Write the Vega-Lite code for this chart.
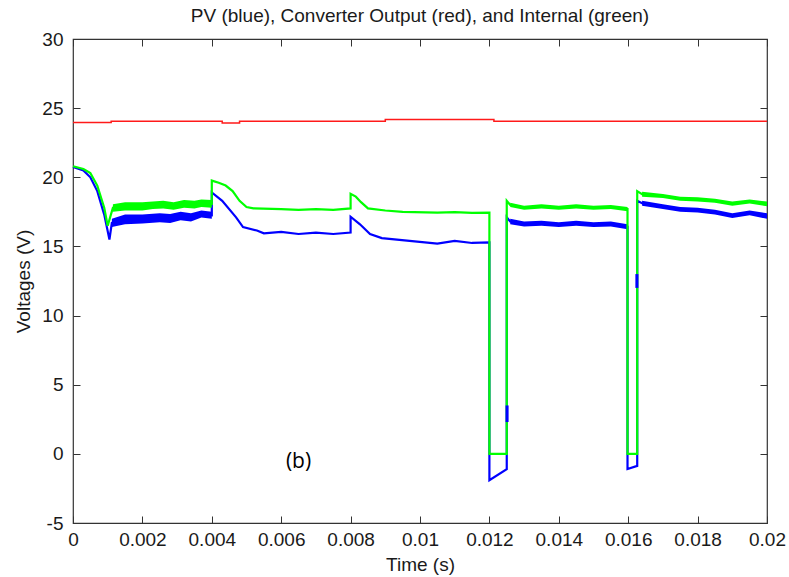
{
  "$schema": "https://vega.github.io/schema/vega-lite/v6.json",
  "width": 694,
  "height": 484,
  "autosize": {"type": "none"},
  "padding": {"left": 73, "top": 39, "right": 22, "bottom": 54},
  "background": "white",
  "config": {
    "view": {"stroke": "#333333", "strokeWidth": 1.2},
    "font": "Liberation Sans",
    "axis": {
      "domain": false,
      "grid": false,
      "tickColor": "#333333",
      "tickSize": -7,
      "labelFlush": false,
      "labelOverlap": false,
      "labelFont": "Liberation Sans",
      "labelFontSize": 19,
      "labelColor": "#1a1a1a",
      "titleFont": "Liberation Sans",
      "titleFontSize": 19,
      "titleFontWeight": "normal",
      "titleColor": "#1a1a1a"
    }
  },
  "title": {
    "text": "PV (blue), Converter Output (red), and Internal (green)",
    "font": "Liberation Sans",
    "fontSize": 19,
    "fontWeight": "normal",
    "color": "#1a1a1a",
    "anchor": "middle",
    "offset": 4
  },
  "datasets": {
    "curves": [
      {"s": "red", "t": 0, "v": 23.97},
      {"s": "red", "t": 0.0011, "v": 23.97},
      {"s": "red", "t": 0.0011, "v": 24.05},
      {"s": "red", "t": 0.0043, "v": 24.05},
      {"s": "red", "t": 0.0043, "v": 23.92},
      {"s": "red", "t": 0.0048, "v": 23.92},
      {"s": "red", "t": 0.0048, "v": 24.05},
      {"s": "red", "t": 0.009, "v": 24.05},
      {"s": "red", "t": 0.009, "v": 24.18},
      {"s": "red", "t": 0.01213, "v": 24.18},
      {"s": "red", "t": 0.01213, "v": 24.05},
      {"s": "red", "t": 0.02, "v": 24.05},

      {"s": "green", "t": 0, "v": 20.8},
      {"s": "green", "t": 0.0003, "v": 20.6},
      {"s": "green", "t": 0.0005, "v": 20.3},
      {"s": "green", "t": 0.0007, "v": 19.4},
      {"s": "green", "t": 0.0009, "v": 17.8},
      {"s": "green", "t": 0.001, "v": 16.5},
      {"s": "green", "t": 0.00115, "v": 17.8},
      {"s": "green", "t": 0.0015, "v": 17.9},
      {"s": "green", "t": 0.002, "v": 17.9},
      {"s": "green", "t": 0.0023, "v": 17.98},
      {"s": "green", "t": 0.0026, "v": 18.02},
      {"s": "green", "t": 0.0029, "v": 17.92},
      {"s": "green", "t": 0.0032, "v": 18.08},
      {"s": "green", "t": 0.0035, "v": 18.02},
      {"s": "green", "t": 0.0037, "v": 18.12},
      {"s": "green", "t": 0.004, "v": 18.08},
      {"s": "green", "t": 0.004, "v": 19.76},
      {"s": "green", "t": 0.0042, "v": 19.6},
      {"s": "green", "t": 0.0044, "v": 19.4},
      {"s": "green", "t": 0.0046, "v": 19.0},
      {"s": "green", "t": 0.0048, "v": 18.3},
      {"s": "green", "t": 0.005, "v": 17.85},
      {"s": "green", "t": 0.0052, "v": 17.75},
      {"s": "green", "t": 0.006, "v": 17.7},
      {"s": "green", "t": 0.0065, "v": 17.65},
      {"s": "green", "t": 0.007, "v": 17.7},
      {"s": "green", "t": 0.0075, "v": 17.65},
      {"s": "green", "t": 0.008, "v": 17.75},
      {"s": "green", "t": 0.008, "v": 18.8},
      {"s": "green", "t": 0.00815, "v": 18.6},
      {"s": "green", "t": 0.0083, "v": 18.2},
      {"s": "green", "t": 0.0085, "v": 17.75},
      {"s": "green", "t": 0.009, "v": 17.6},
      {"s": "green", "t": 0.0095, "v": 17.5},
      {"s": "green", "t": 0.0105, "v": 17.45},
      {"s": "green", "t": 0.011, "v": 17.48},
      {"s": "green", "t": 0.0115, "v": 17.42},
      {"s": "green", "t": 0.012, "v": 17.45},
      {"s": "green", "t": 0.012, "v": 0},
      {"s": "green", "t": 0.0125, "v": 0},
      {"s": "green", "t": 0.0125, "v": 18.3},
      {"s": "green", "t": 0.0126, "v": 18.0},
      {"s": "green", "t": 0.013, "v": 17.8},
      {"s": "green", "t": 0.0135, "v": 17.9},
      {"s": "green", "t": 0.014, "v": 17.8},
      {"s": "green", "t": 0.0145, "v": 17.9},
      {"s": "green", "t": 0.015, "v": 17.8},
      {"s": "green", "t": 0.0155, "v": 17.85},
      {"s": "green", "t": 0.01598, "v": 17.7},
      {"s": "green", "t": 0.01598, "v": 0},
      {"s": "green", "t": 0.01626, "v": 0},
      {"s": "green", "t": 0.01626, "v": 19.0},
      {"s": "green", "t": 0.0164, "v": 18.78},
      {"s": "green", "t": 0.017, "v": 18.65},
      {"s": "green", "t": 0.0175, "v": 18.45},
      {"s": "green", "t": 0.018, "v": 18.4},
      {"s": "green", "t": 0.0185, "v": 18.3},
      {"s": "green", "t": 0.019, "v": 18.1},
      {"s": "green", "t": 0.0195, "v": 18.25},
      {"s": "green", "t": 0.02, "v": 18.08},

      {"s": "blue", "t": 0, "v": 20.75},
      {"s": "blue", "t": 0.0003, "v": 20.5},
      {"s": "blue", "t": 0.0005, "v": 20.0},
      {"s": "blue", "t": 0.0007, "v": 19.0},
      {"s": "blue", "t": 0.0009, "v": 17.3},
      {"s": "blue", "t": 0.00105, "v": 15.5},
      {"s": "blue", "t": 0.00112, "v": 16.7},
      {"s": "blue", "t": 0.0015, "v": 16.95},
      {"s": "blue", "t": 0.002, "v": 16.98},
      {"s": "blue", "t": 0.0025, "v": 17.08},
      {"s": "blue", "t": 0.0028, "v": 17.02},
      {"s": "blue", "t": 0.0031, "v": 17.2},
      {"s": "blue", "t": 0.0034, "v": 17.1},
      {"s": "blue", "t": 0.0037, "v": 17.35},
      {"s": "blue", "t": 0.004, "v": 17.25},
      {"s": "blue", "t": 0.004, "v": 18.9},
      {"s": "blue", "t": 0.0043, "v": 18.3},
      {"s": "blue", "t": 0.0047, "v": 17.1},
      {"s": "blue", "t": 0.0049, "v": 16.4},
      {"s": "blue", "t": 0.0053, "v": 16.15},
      {"s": "blue", "t": 0.0055, "v": 15.95},
      {"s": "blue", "t": 0.006, "v": 16.05},
      {"s": "blue", "t": 0.0065, "v": 15.9},
      {"s": "blue", "t": 0.007, "v": 16.0},
      {"s": "blue", "t": 0.0075, "v": 15.9},
      {"s": "blue", "t": 0.008, "v": 16.0},
      {"s": "blue", "t": 0.008, "v": 17.15},
      {"s": "blue", "t": 0.00827, "v": 16.6},
      {"s": "blue", "t": 0.00856, "v": 15.9},
      {"s": "blue", "t": 0.0089, "v": 15.6},
      {"s": "blue", "t": 0.0097, "v": 15.4},
      {"s": "blue", "t": 0.0105, "v": 15.2},
      {"s": "blue", "t": 0.011, "v": 15.4},
      {"s": "blue", "t": 0.0115, "v": 15.25},
      {"s": "blue", "t": 0.012, "v": 15.3},
      {"s": "blue", "t": 0.012, "v": -1.9},
      {"s": "blue", "t": 0.0125, "v": -1.1},
      {"s": "blue", "t": 0.0125, "v": 17.1},
      {"s": "blue", "t": 0.0126, "v": 16.8},
      {"s": "blue", "t": 0.013, "v": 16.62},
      {"s": "blue", "t": 0.0135, "v": 16.68},
      {"s": "blue", "t": 0.014, "v": 16.58},
      {"s": "blue", "t": 0.0145, "v": 16.68},
      {"s": "blue", "t": 0.015, "v": 16.58},
      {"s": "blue", "t": 0.0155, "v": 16.62},
      {"s": "blue", "t": 0.01598, "v": 16.42},
      {"s": "blue", "t": 0.01598, "v": -1.1},
      {"s": "blue", "t": 0.01626, "v": -0.87},
      {"s": "blue", "t": 0.01626, "v": 18.3},
      {"s": "blue", "t": 0.0164, "v": 18.12},
      {"s": "blue", "t": 0.017, "v": 17.88},
      {"s": "blue", "t": 0.0175, "v": 17.68},
      {"s": "blue", "t": 0.018, "v": 17.62},
      {"s": "blue", "t": 0.0185, "v": 17.48},
      {"s": "blue", "t": 0.019, "v": 17.22},
      {"s": "blue", "t": 0.0195, "v": 17.42},
      {"s": "blue", "t": 0.02, "v": 17.2}
    ],
    "bands": [
      {"s": "green", "seg": "g1", "t": 0.00115, "lo": 17.5, "hi": 18.05},
      {"s": "green", "seg": "g1", "t": 0.0015, "lo": 17.6, "hi": 18.2},
      {"s": "green", "seg": "g1", "t": 0.002, "lo": 17.6, "hi": 18.2},
      {"s": "green", "seg": "g1", "t": 0.0023, "lo": 17.7, "hi": 18.25},
      {"s": "green", "seg": "g1", "t": 0.0026, "lo": 17.75, "hi": 18.3},
      {"s": "green", "seg": "g1", "t": 0.0029, "lo": 17.65, "hi": 18.2},
      {"s": "green", "seg": "g1", "t": 0.0032, "lo": 17.8, "hi": 18.35},
      {"s": "green", "seg": "g1", "t": 0.0035, "lo": 17.75, "hi": 18.3},
      {"s": "green", "seg": "g1", "t": 0.0037, "lo": 17.85, "hi": 18.4},
      {"s": "green", "seg": "g1", "t": 0.004, "lo": 17.8, "hi": 18.35},
      {"s": "green", "seg": "g2", "t": 0.0126, "lo": 17.85, "hi": 18.15},
      {"s": "green", "seg": "g2", "t": 0.013, "lo": 17.65, "hi": 17.95},
      {"s": "green", "seg": "g2", "t": 0.0135, "lo": 17.75, "hi": 18.05},
      {"s": "green", "seg": "g2", "t": 0.014, "lo": 17.65, "hi": 17.95},
      {"s": "green", "seg": "g2", "t": 0.0145, "lo": 17.75, "hi": 18.05},
      {"s": "green", "seg": "g2", "t": 0.015, "lo": 17.65, "hi": 17.95},
      {"s": "green", "seg": "g2", "t": 0.0155, "lo": 17.7, "hi": 18.0},
      {"s": "green", "seg": "g2", "t": 0.01598, "lo": 17.55, "hi": 17.85},
      {"s": "green", "seg": "g3", "t": 0.0164, "lo": 18.6, "hi": 18.95},
      {"s": "green", "seg": "g3", "t": 0.017, "lo": 18.5, "hi": 18.8},
      {"s": "green", "seg": "g3", "t": 0.0175, "lo": 18.3, "hi": 18.6},
      {"s": "green", "seg": "g3", "t": 0.018, "lo": 18.25, "hi": 18.55},
      {"s": "green", "seg": "g3", "t": 0.0185, "lo": 18.15, "hi": 18.45},
      {"s": "green", "seg": "g3", "t": 0.019, "lo": 17.95, "hi": 18.25},
      {"s": "green", "seg": "g3", "t": 0.0195, "lo": 18.1, "hi": 18.4},
      {"s": "green", "seg": "g3", "t": 0.02, "lo": 17.9, "hi": 18.25},
      {"s": "blue", "seg": "b1", "t": 0.00112, "lo": 16.4, "hi": 17.0},
      {"s": "blue", "seg": "b1", "t": 0.0015, "lo": 16.6, "hi": 17.3},
      {"s": "blue", "seg": "b1", "t": 0.002, "lo": 16.65, "hi": 17.3},
      {"s": "blue", "seg": "b1", "t": 0.0025, "lo": 16.75, "hi": 17.4},
      {"s": "blue", "seg": "b1", "t": 0.0028, "lo": 16.7, "hi": 17.35},
      {"s": "blue", "seg": "b1", "t": 0.0031, "lo": 16.9, "hi": 17.5},
      {"s": "blue", "seg": "b1", "t": 0.0034, "lo": 16.8, "hi": 17.4},
      {"s": "blue", "seg": "b1", "t": 0.0037, "lo": 17.1, "hi": 17.6},
      {"s": "blue", "seg": "b1", "t": 0.004, "lo": 17.0, "hi": 17.5},
      {"s": "blue", "seg": "b2", "t": 0.0126, "lo": 16.6, "hi": 17.0},
      {"s": "blue", "seg": "b2", "t": 0.013, "lo": 16.45, "hi": 16.8},
      {"s": "blue", "seg": "b2", "t": 0.0135, "lo": 16.5, "hi": 16.85},
      {"s": "blue", "seg": "b2", "t": 0.014, "lo": 16.4, "hi": 16.75},
      {"s": "blue", "seg": "b2", "t": 0.0145, "lo": 16.5, "hi": 16.85},
      {"s": "blue", "seg": "b2", "t": 0.015, "lo": 16.4, "hi": 16.75},
      {"s": "blue", "seg": "b2", "t": 0.0155, "lo": 16.45, "hi": 16.8},
      {"s": "blue", "seg": "b2", "t": 0.01598, "lo": 16.25, "hi": 16.6},
      {"s": "blue", "seg": "b3", "t": 0.0164, "lo": 17.95, "hi": 18.3},
      {"s": "blue", "seg": "b3", "t": 0.017, "lo": 17.7, "hi": 18.05},
      {"s": "blue", "seg": "b3", "t": 0.0175, "lo": 17.5, "hi": 17.85},
      {"s": "blue", "seg": "b3", "t": 0.018, "lo": 17.45, "hi": 17.8},
      {"s": "blue", "seg": "b3", "t": 0.0185, "lo": 17.3, "hi": 17.65},
      {"s": "blue", "seg": "b3", "t": 0.019, "lo": 17.05, "hi": 17.4},
      {"s": "blue", "seg": "b3", "t": 0.0195, "lo": 17.25, "hi": 17.6},
      {"s": "blue", "seg": "b3", "t": 0.02, "lo": 17.0, "hi": 17.4}
    ],
    "spikes": [
      {"t": 0.01251, "lo": 2.3, "hi": 3.5},
      {"t": 0.01625, "lo": 12.0, "hi": 13.0}
    ],
    "notes": [
      {"t": 0.0065, "v": -0.6, "label": "(b)"}
    ]
  },
  "layer": [
    {
      "data": {"name": "curves"},
      "transform": [{"filter": "datum.s === 'red'"}],
      "mark": {"type": "line", "color": "#ff1a1a", "strokeWidth": 1.5},
      "encoding": {
        "x": {"field": "t", "type": "quantitative", "scale": {"domain": [0, 0.02], "nice": false, "zero": false},
              "axis": {"orient": "bottom", "values": [0, 0.002, 0.004, 0.006, 0.008, 0.01, 0.012, 0.014, 0.016, 0.018, 0.02], "format": "~g", "title": "Time (s)", "labelPadding": 14, "titlePadding": 6}},
        "y": {"field": "v", "type": "quantitative", "scale": {"domain": [-5, 30], "nice": false, "zero": false},
              "axis": {"orient": "left", "values": [-5, 0, 5, 10, 15, 20, 25, 30], "labelExpr": "datum.value < 0 ? '-' + abs(datum.value) : '' + datum.value", "title": "Voltages (V)", "labelPadding": 17, "titlePadding": 8}}
      }
    },
    {
      "data": {"name": "bands"},
      "transform": [{"filter": "datum.s === 'blue'"}],
      "mark": {"type": "area", "color": "#0000ff", "opacity": 1},
      "encoding": {
        "x": {"field": "t", "type": "quantitative", "scale": {"domain": [0, 0.02], "nice": false, "zero": false}, "axis": null},
        "y": {"field": "lo", "type": "quantitative", "scale": {"domain": [-5, 30], "nice": false, "zero": false}, "axis": null},
        "y2": {"field": "hi"},
        "detail": {"field": "seg"}
      }
    },
    {
      "data": {"name": "curves"},
      "transform": [{"filter": "datum.s === 'blue'"}],
      "mark": {"type": "line", "color": "#0000ff", "strokeWidth": 2.2},
      "encoding": {
        "x": {"field": "t", "type": "quantitative", "scale": {"domain": [0, 0.02], "nice": false, "zero": false}, "axis": null},
        "y": {"field": "v", "type": "quantitative", "scale": {"domain": [-5, 30], "nice": false, "zero": false}, "axis": null}
      }
    },
    {
      "data": {"name": "bands"},
      "transform": [{"filter": "datum.s === 'green'"}],
      "mark": {"type": "area", "color": "#00ff00", "opacity": 1},
      "encoding": {
        "x": {"field": "t", "type": "quantitative", "scale": {"domain": [0, 0.02], "nice": false, "zero": false}, "axis": null},
        "y": {"field": "lo", "type": "quantitative", "scale": {"domain": [-5, 30], "nice": false, "zero": false}, "axis": null},
        "y2": {"field": "hi"},
        "detail": {"field": "seg"}
      }
    },
    {
      "data": {"name": "curves"},
      "transform": [{"filter": "datum.s === 'green'"}],
      "mark": {"type": "line", "color": "#00ff00", "strokeWidth": 2.2},
      "encoding": {
        "x": {"field": "t", "type": "quantitative", "scale": {"domain": [0, 0.02], "nice": false, "zero": false}, "axis": null},
        "y": {"field": "v", "type": "quantitative", "scale": {"domain": [-5, 30], "nice": false, "zero": false}, "axis": null}
      }
    },
    {
      "data": {"name": "spikes"},
      "mark": {"type": "rule", "color": "#0000ff", "strokeWidth": 3},
      "encoding": {
        "x": {"field": "t", "type": "quantitative", "scale": {"domain": [0, 0.02], "nice": false, "zero": false}, "axis": null},
        "y": {"field": "lo", "type": "quantitative", "scale": {"domain": [-5, 30], "nice": false, "zero": false}, "axis": null},
        "y2": {"field": "hi"}
      }
    },
    {
      "data": {"name": "notes"},
      "mark": {"type": "text", "font": "Open Sans", "fontSize": 21, "color": "#000000", "align": "center", "baseline": "middle"},
      "encoding": {
        "x": {"field": "t", "type": "quantitative", "scale": {"domain": [0, 0.02], "nice": false, "zero": false},
              "axis": {"orient": "top", "values": [0, 0.002, 0.004, 0.006, 0.008, 0.01, 0.012, 0.014, 0.016, 0.018, 0.02], "labels": false, "title": null}},
        "y": {"field": "v", "type": "quantitative", "scale": {"domain": [-5, 30], "nice": false, "zero": false},
              "axis": {"orient": "right", "values": [-5, 0, 5, 10, 15, 20, 25, 30], "labels": false, "title": null}},
        "text": {"field": "label"}
      }
    }
  ],
  "resolve": {"axis": {"x": "independent", "y": "independent"}}
}
